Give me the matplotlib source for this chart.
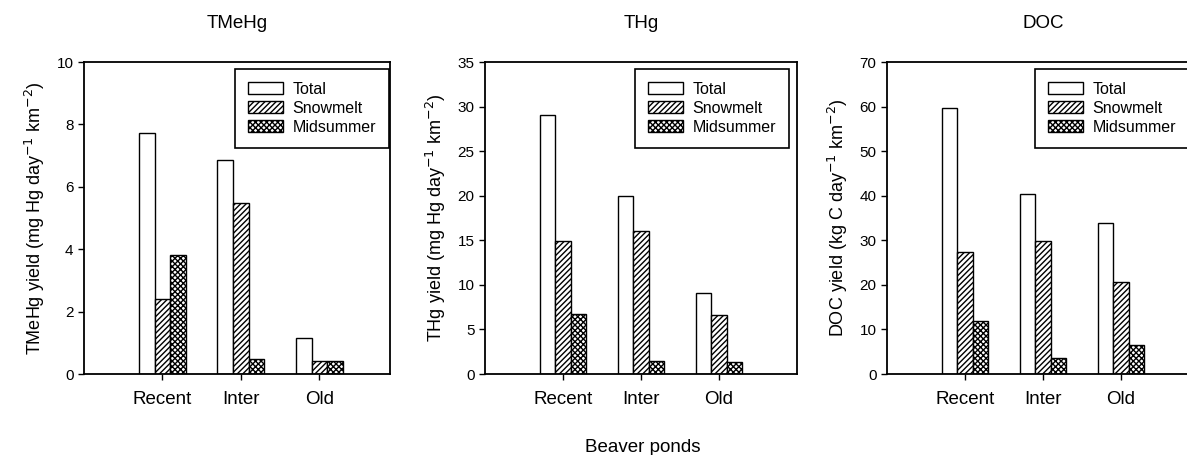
import numpy as np
import matplotlib.pyplot as plt
from matplotlib.patches import Patch

plt.rcParams['font.family'] = ['Liberation Sans', 'DejaVu Sans']
plt.rcParams['hatch.linewidth'] = 1.0

categories = ['Recent', 'Inter', 'Old']
series = ['Total', 'Snowmelt', 'Midsummer']
hatches = ['', '//////', 'xxxxxx']

tmehg_total = [7.73, 6.87, 1.14]
tmehg_snow = [2.39, 5.48, 0.42]
tmehg_mid = [3.80, 0.49, 0.42]

thg_total = [29.05, 19.93, 9.12]
thg_snow = [14.95, 16.04, 6.62]
thg_mid = [6.77, 1.46, 1.35]

doc_total = [59.75, 40.4, 33.9]
doc_snow = [27.4, 29.9, 20.6]
doc_mid = [12.0, 3.6, 6.4]

titles = ['TMeHg', 'THg', 'DOC']
ylabels = [r'TMeHg yield (mg Hg day$^{-1}$ km$^{-2}$)',
           r'THg yield (mg Hg day$^{-1}$ km$^{-2}$)',
           r'DOC yield (kg C day$^{-1}$ km$^{-2}$)']
ymax = [10, 35, 70]
ystep = [2, 5, 10]
data = [[tmehg_total, tmehg_snow, tmehg_mid],
        [thg_total, thg_snow, thg_mid],
        [doc_total, doc_snow, doc_mid]]

W, H = 1187, 455
fig = plt.figure(figsize=(W / 100, H / 100), dpi=100)

# panel boxes in pixels: left, right (top 62, bottom 374)
lefts = [84, 485, 887]
rights = [390, 797, 1199]
leg_right = [389, 789, 1189]
xmax = [3.9, 4.0, 4.0]
top, bot = 62, 374

x = np.arange(1, len(categories) + 1)
width = 0.2

for i in range(3):
    l, r = lefts[i], rights[i]
    ax = fig.add_axes([l / W, (H - bot) / H, (r - l) / W, (bot - top) / H])
    for j, vals in enumerate(data[i]):
        ax.bar(x + (j - 1) * width, vals, width, color='white', edgecolor='black',
               linewidth=1.0, hatch=hatches[j], label=series[j])
    ax.set_xlim(0, xmax[i])
    ax.set_ylim(0, ymax[i])
    ax.set_yticks(np.arange(0, ymax[i] + 1, ystep[i]))
    ax.set_xticks(x)
    ax.set_xticklabels(categories, fontsize=13.5)
    ax.tick_params(axis='y', labelsize=11, direction='out', length=4, width=1)
    ax.tick_params(axis='x', direction='out', length=4, width=1, pad=8)
    for s in ax.spines.values():
        s.set_linewidth(1.3)
    ax.set_ylabel(ylabels[i], fontsize=13, labelpad=7)
    handles = [Patch(facecolor='white', edgecolor='black', hatch=hatches[j], linewidth=1.0)
               for j in range(3)]
    leg = ax.legend(handles, series, loc='upper right',
                    bbox_to_anchor=((leg_right[i] - l) / (r - l), (bot - 69) / (bot - top)),
                    borderaxespad=0, fontsize=11.5, fancybox=False, framealpha=1,
                    edgecolor='black', handlelength=2.2, handleheight=0.8,
                    labelspacing=0.25, borderpad=0.8, handletextpad=0.6)
    leg.get_frame().set_linewidth(1.2)
    fig.text((l + r) / 2 / W, 1 - 24 / H, titles[i], ha='center', va='center', fontsize=13.5)

fig.text(643 / W, 1 - 447 / H, 'Beaver ponds', ha='center', va='center', fontsize=13.5)

fig.savefig('out.png', dpi=100)
